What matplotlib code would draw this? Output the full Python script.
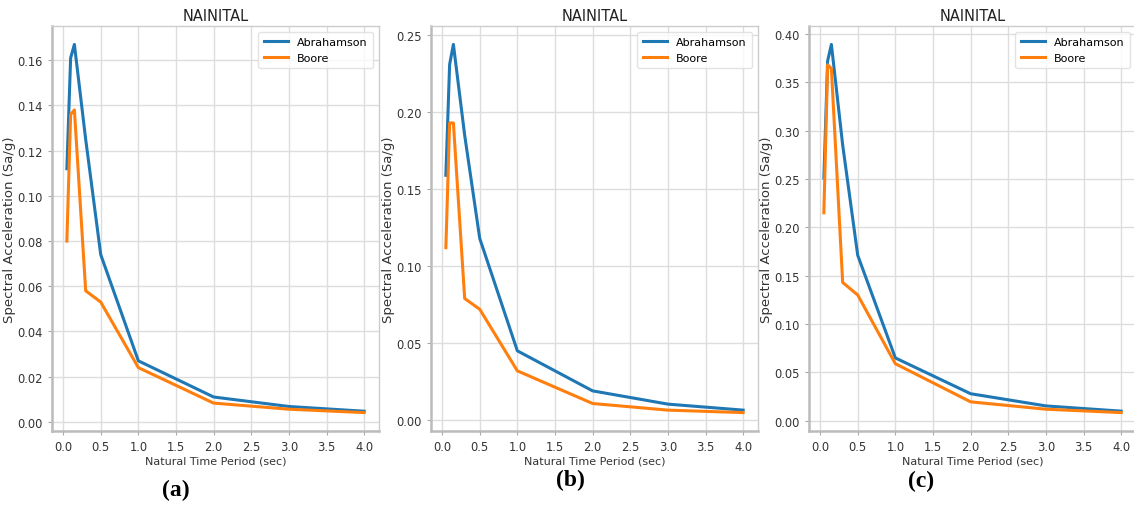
import matplotlib
matplotlib.use("Agg")
import matplotlib.pyplot as plt

# natural time periods (sec)
periods = [0.05, 0.1, 0.15, 0.3, 0.5, 1.0, 2.0, 3.0, 4.0]

# spectral acceleration (Sa/g) for the three cases
abrahamson_a = [0.112, 0.161, 0.167, 0.125, 0.074, 0.027, 0.011, 0.0068, 0.0047]
boore_a = [0.080, 0.136, 0.138, 0.058, 0.053, 0.024, 0.0083, 0.0056, 0.0041]

abrahamson_b = [0.159, 0.231, 0.244, 0.185, 0.118, 0.045, 0.019, 0.0104, 0.0065]
boore_b = [0.112, 0.193, 0.193, 0.079, 0.072, 0.032, 0.0108, 0.0065, 0.0049]

abrahamson_c = [0.251, 0.372, 0.389, 0.285, 0.171, 0.065, 0.028, 0.0154, 0.0100]
boore_c = [0.215, 0.368, 0.364, 0.143, 0.130, 0.059, 0.0196, 0.012, 0.0085]

panel_tags = ["(a)", "(b)", "(c)"]

plt.rcParams["font.family"] = "DejaVu Sans"

fig = plt.figure(figsize=(11.34, 5.06), dpi=100)

lefts = [52, 431, 809]
tag_pos = [(176, 490), (570, 480), (921, 481)]
series = [(abrahamson_a, boore_a), (abrahamson_b, boore_b), (abrahamson_c, boore_c)]

for i, (ab, bo) in enumerate(series):
    ax = fig.add_axes([lefts[i] / 1134, 74 / 506, 327 / 1134, 405 / 506])
    ax.plot(periods, ab, color="#1f77b4", lw=2.2, label="Abrahamson")
    ax.plot(periods, bo, color="#ff7f0e", lw=2.2, label="Boore")
    ax.set_title("NAINITAL", fontsize=10.5, color="#222222", pad=4)
    ax.set_xlabel("Natural Time Period (sec)", fontsize=8, color="#333333", labelpad=2)
    ax.set_ylabel("Spectral Acceleration (Sa/g)", fontsize=9.5, color="#333333", labelpad=1)
    ax.set_xticks([0.0, 0.5, 1.0, 1.5, 2.0, 2.5, 3.0, 3.5, 4.0])
    ax.tick_params(labelsize=8.3, colors="#333333", length=3, width=0.8)
    ax.tick_params(axis="both", color="#aaaaaa")
    ax.grid(True, color="#dddddd", lw=1)
    ax.set_axisbelow(True)
    for side in ["top", "right"]:
        ax.spines[side].set_color("#cccccc")
        ax.spines[side].set_linewidth(1)
    for side in ["left", "bottom"]:
        ax.spines[side].set_color("#bbbbbb")
        ax.spines[side].set_linewidth(1.8)
    leg = ax.legend(loc="upper right", fontsize=8, frameon=True, fancybox=True,
                    handlelength=2.2, borderpad=0.5)
    leg.get_frame().set_edgecolor("#dddddd")
    x, y = tag_pos[i]
    fig.text(x / 1134, 1 - y / 506, panel_tags[i], fontsize=17, fontweight="bold",
             family="Liberation Serif", ha="center", va="center")

fig.savefig("out.png", dpi=100)
